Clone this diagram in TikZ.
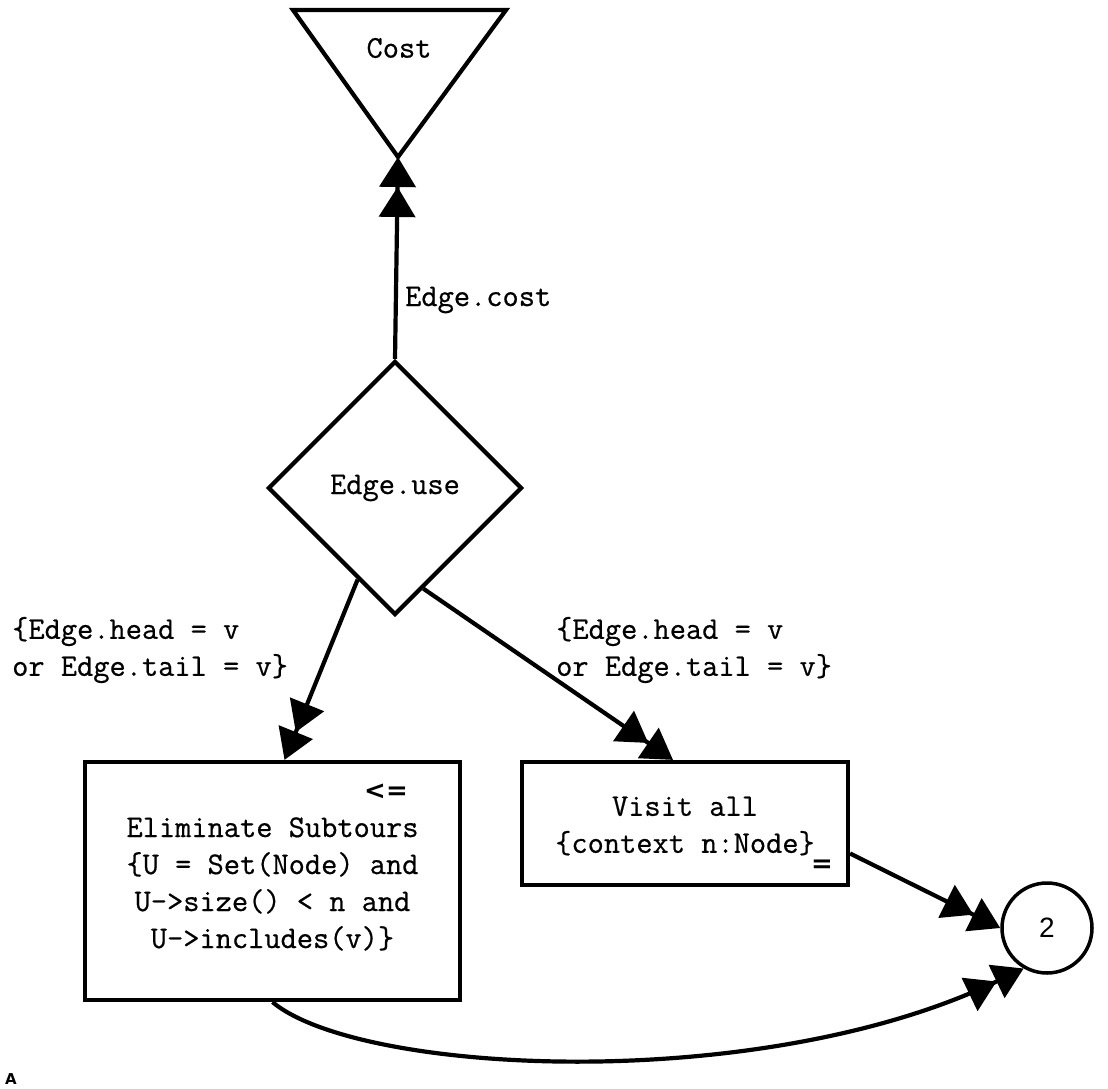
\documentclass[tikz,border=0pt]{standalone}
\usepackage{fontspec}
\usetikzlibrary{shapes.geometric,arrows.meta,calc}
\setmonofont{Latin Modern Mono}[FakeBold=0.6]
\newfontfamily\symfont{DejaVu Sans}
\newfontfamily\numfont{Liberation Sans}

\tikzset{
  every node/.style={font=\fontsize{31.5}{37}\selectfont\ttfamily},
  shapeline/.style={line width=4.2pt, line join=miter},
  flow/.style={line width=4.2pt,
    -{Triangle[length=30pt,width=36pt] Triangle[length=30pt,width=36pt]}},
  decision/.style={diamond, draw, shapeline, minimum width=254pt,
    minimum height=254pt, inner sep=0pt, aspect=1},
  taskbox/.style={rectangle, draw, shapeline, inner sep=0pt, align=center},
  endpoint/.style={circle, draw, line width=3.5pt, minimum size=90pt,
    inner sep=0pt, font=\numfont\fontsize{28}{28}\selectfont},
  guard/.style={align=left, inner sep=0pt, anchor=west},
  opmark/.style={inner sep=0pt, font=\symfont\bfseries\fontsize{26}{26}\selectfont}
}

\begin{document}
\begin{tikzpicture}[x=1pt,y=-1pt]
\useasboundingbox (0,0) rectangle (1108,1089);

% cost sink: downward triangle
\draw[shapeline] (293,10) -- (506,10) -- (398,157) -- cycle;
\coordinate (costtip) at (398,157);
\node (cost) at (399,48) {Cost};

% decision
\node[decision] (use) at (395,488) {Edge.use};

% tasks
\node[taskbox, minimum width=375pt, minimum height=238pt] (elim) at (272.5,881) {};
\node[align=center, inner sep=0pt] (elimtext) at (272.5,884)
  {Eliminate Subtours\\{\{}U = Set(Node) and\\U->size() < n and\\U->includes(v)\}};
\node[opmark] (le) at (386,792) {<=};

\node[taskbox, minimum width=326pt, minimum height=123pt] (visit) at (685,823.5) {};
\node[align=center, inner sep=0pt] (visittext) at (685,826)
  {Visit all\\\{context n:Node\}};
\node[opmark] (eq) at (822,866) {=};

% end connector
\node[endpoint] (two) at (1047,928) {2};

% connectors
\draw[flow] (use.north) -- (costtip);
\node[guard] (costlbl) at (405,300) {Edge.cost};

\draw[flow] ($(use.south)!0.29!(use.west)$) -- ([xshift=12pt]elim.north);
\draw[flow] ($(use.south)!0.22!(use.east)$) -- ([xshift=-12pt]visit.north);
\node[guard] (lguard) at (12,650) {\{Edge.head = v\\or Edge.tail = v\}};
\node[guard] (rguard) at (556,650) {\{Edge.head = v\\or Edge.tail = v\}};

\draw[flow] ([yshift=-30pt]visit.east) -- (two.west);
\draw[flow] (elim.south) .. controls (360,1075) and (760,1095) .. (two.240);

% glyph at the lower left corner
\node[anchor=south, inner sep=0pt, font=\symfont\bfseries\fontsize{15}{15}\selectfont] (corner) at (11,1085) {A};
\end{tikzpicture}
\end{document}
